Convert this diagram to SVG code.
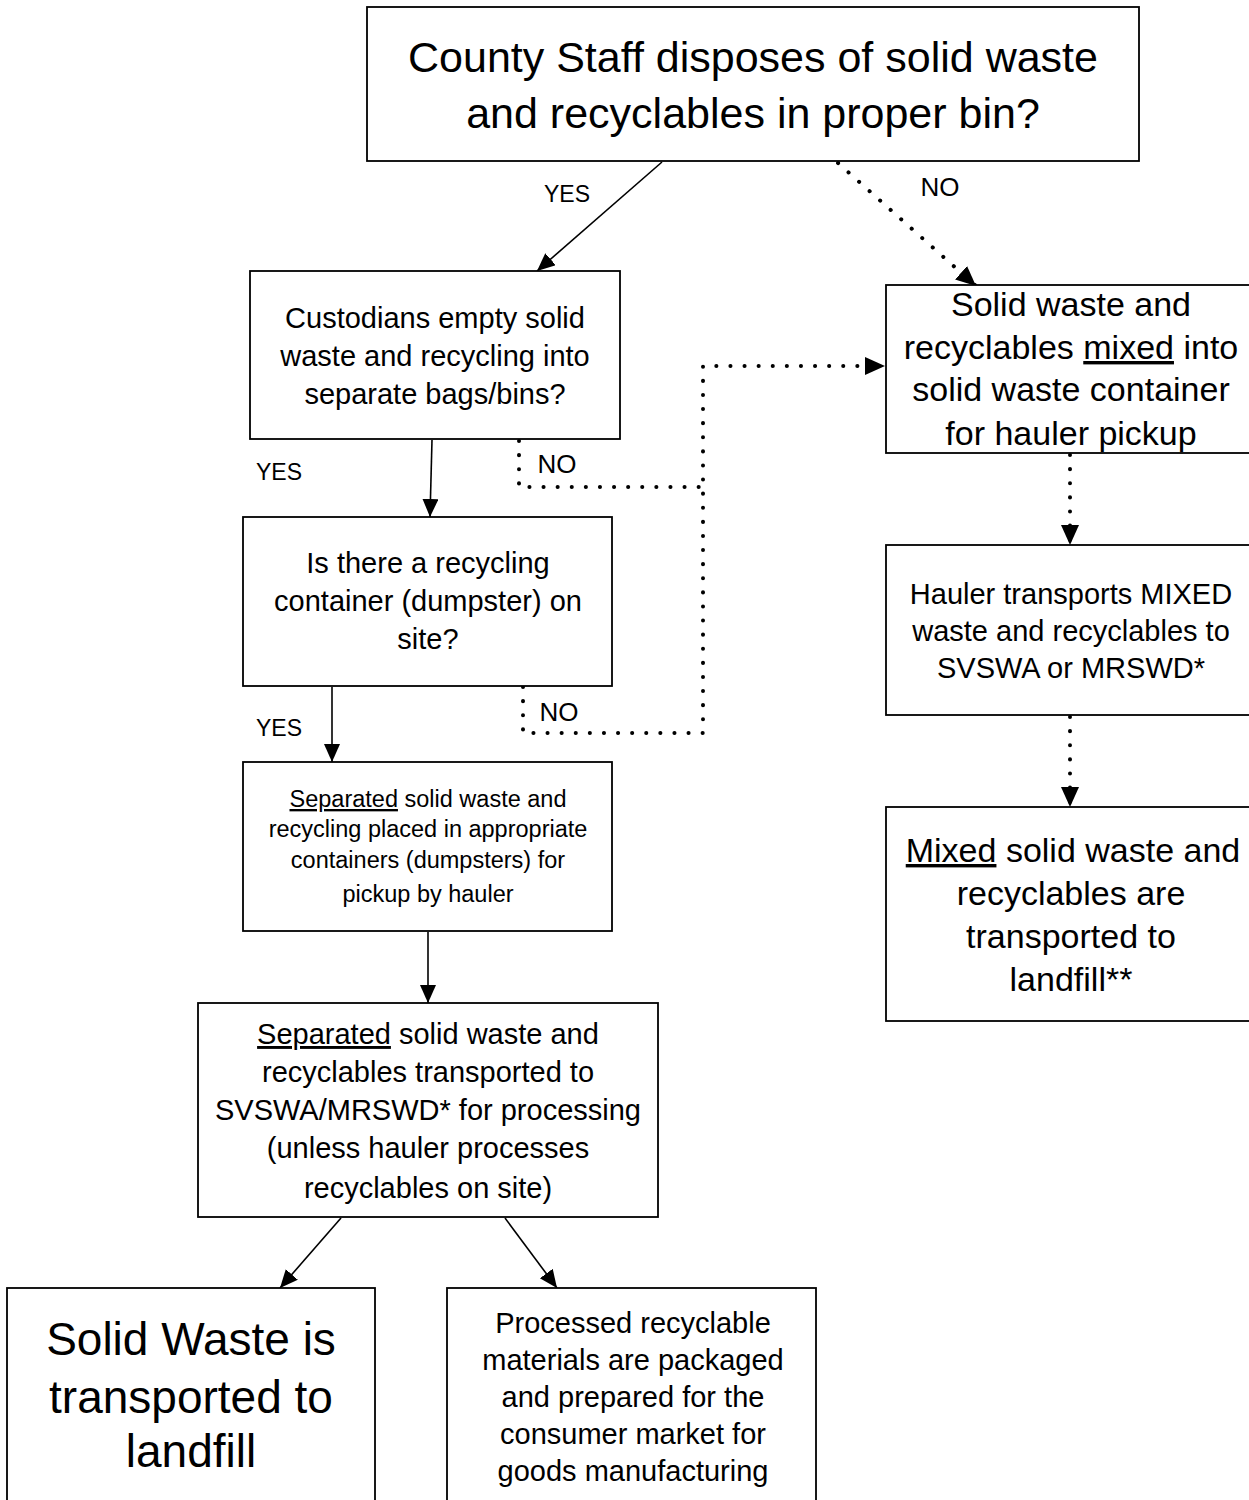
<svg xmlns="http://www.w3.org/2000/svg" width="1249" height="1500" viewBox="0 0 1249 1500">
<style>
.box{fill:#fff;stroke:#000;stroke-width:1.8}
.t{font-family:"Liberation Sans",Arial,sans-serif;fill:#000;text-anchor:middle}
.lbl{font-family:"Liberation Sans",Arial,sans-serif;fill:#000;font-size:23px;text-anchor:middle}
.lno{font-size:26px}
.solid{fill:none;stroke:#000;stroke-width:1.6}
.dot{fill:none;stroke:#000;stroke-width:4;stroke-linecap:round;stroke-dasharray:0.1 14}
</style>
<defs>
<marker id="ah" markerUnits="userSpaceOnUse" markerWidth="20" markerHeight="18" refX="18" refY="8" orient="auto">
<path d="M0,0 L18,8 L0,16 z" fill="#000"/>
</marker>
<marker id="ahd" markerUnits="userSpaceOnUse" markerWidth="22" markerHeight="20" refX="20" refY="9" orient="auto">
<path d="M0,0 L20,9 L0,18 z" fill="#000"/>
</marker>
</defs>
<rect width="1249" height="1500" fill="#fff"/>
<g id="connectors">
<line class="solid" x1="662" y1="162" x2="537" y2="271" marker-end="url(#ah)"/>
<line class="dot" x1="838" y1="163" x2="976" y2="286" marker-end="url(#ahd)"/>
<line class="solid" x1="432" y1="440" x2="430" y2="517" marker-end="url(#ah)"/>
<path class="dot" d="M519,441 V487 H703"/>
<path class="dot" d="M523,687 V733 H703 V366 H885" marker-end="url(#ahd)"/>
<line class="solid" x1="332" y1="687" x2="332" y2="762" marker-end="url(#ah)"/>
<line class="solid" x1="428" y1="932" x2="428" y2="1003" marker-end="url(#ah)"/>
<line class="solid" x1="341" y1="1218" x2="280" y2="1288" marker-end="url(#ah)"/>
<line class="solid" x1="505" y1="1218" x2="557" y2="1288" marker-end="url(#ah)"/>
<line class="dot" x1="1070" y1="455" x2="1070" y2="545" marker-end="url(#ahd)"/>
<line class="dot" x1="1070" y1="717" x2="1070" y2="807" marker-end="url(#ahd)"/>
<text class="lbl" x="567" y="202">YES</text>
<text class="lbl lno" x="940" y="196">NO</text>
<text class="lbl" x="279" y="480">YES</text>
<text class="lbl lno" x="557" y="473">NO</text>
<text class="lbl" x="279" y="736">YES</text>
<text class="lbl lno" x="559" y="721">NO</text>
</g>
<g id="n-top">
<rect class="box" x="367" y="7" width="772" height="154"/>
<text class="t" font-size="43" x="753"><tspan x="753" y="72">County Staff disposes of solid waste</tspan><tspan x="753" y="128">and recyclables in proper bin?</tspan></text>
</g>
<g id="n-custodians">
<rect class="box" x="250" y="271" width="370" height="168"/>
<text class="t" font-size="29"><tspan x="435" y="328">Custodians empty solid</tspan><tspan x="435" y="366">waste and recycling into</tspan><tspan x="435" y="404">separate bags/bins?</tspan></text>
</g>
<g id="n-mixed">
<rect class="box" x="886" y="285" width="366" height="168"/>
<text class="t" font-size="34"><tspan x="1071" y="316">Solid waste and</tspan><tspan x="1071" y="359">recyclables <tspan text-decoration="underline">mixed</tspan> into</tspan><tspan x="1071" y="401">solid waste container</tspan><tspan x="1071" y="445">for hauler pickup</tspan></text>
</g>
<g id="n-hauler">
<rect class="box" x="886" y="545" width="366" height="170"/>
<text class="t" font-size="29"><tspan x="1071" y="604">Hauler transports MIXED</tspan><tspan x="1071" y="641">waste and recyclables to</tspan><tspan x="1071" y="678">SVSWA or MRSWD*</tspan></text>
</g>
<g id="n-mixed-landfill">
<rect class="box" x="886" y="807" width="366" height="214"/>
<text class="t" font-size="34"><tspan x="1073" y="862"><tspan text-decoration="underline">Mixed</tspan> solid waste and</tspan><tspan x="1071" y="905">recyclables are</tspan><tspan x="1071" y="948">transported to</tspan><tspan x="1071" y="991">landfill**</tspan></text>
</g>
<g id="n-container">
<rect class="box" x="243" y="517" width="369" height="169"/>
<text class="t" font-size="29"><tspan x="428" y="573">Is there a recycling</tspan><tspan x="428" y="611">container (dumpster) on</tspan><tspan x="428" y="649">site?</tspan></text>
</g>
<g id="n-separated">
<rect class="box" x="243" y="762" width="369" height="169"/>
<text class="t" font-size="23.5"><tspan x="428" y="807"><tspan text-decoration="underline">Separated</tspan> solid waste and</tspan><tspan x="428" y="837">recycling placed in appropriate</tspan><tspan x="428" y="868">containers (dumpsters) for</tspan><tspan x="428" y="902">pickup by hauler</tspan></text>
</g>
<g id="n-transported">
<rect class="box" x="198" y="1003" width="460" height="214"/>
<text class="t" font-size="29"><tspan x="428" y="1044"><tspan text-decoration="underline">Separated</tspan> solid waste and</tspan><tspan x="428" y="1082">recyclables transported to</tspan><tspan x="428" y="1120">SVSWA/MRSWD* for processing</tspan><tspan x="428" y="1158">(unless hauler processes</tspan><tspan x="428" y="1198">recyclables on site)</tspan></text>
</g>
<g id="n-landfill">
<rect class="box" x="7" y="1288" width="368" height="216"/>
<text class="t" font-size="46"><tspan x="191" y="1355">Solid Waste is</tspan><tspan x="191" y="1413">transported to</tspan><tspan x="191" y="1467">landfill</tspan></text>
</g>
<g id="n-market">
<rect class="box" x="447" y="1288" width="369" height="216"/>
<text class="t" font-size="29"><tspan x="633" y="1333">Processed recyclable</tspan><tspan x="633" y="1370">materials are packaged</tspan><tspan x="633" y="1407">and prepared for the</tspan><tspan x="633" y="1444">consumer market for</tspan><tspan x="633" y="1481">goods manufacturing</tspan></text>
</g>
</svg>
